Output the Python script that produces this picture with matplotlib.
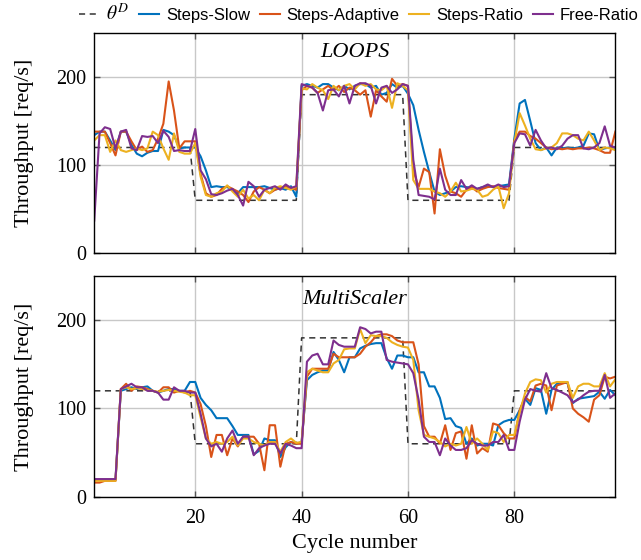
import numpy as np
import matplotlib
matplotlib.use('Agg')
import matplotlib.pyplot as plt

plt.rcParams['font.family'] = ['Liberation Serif', 'DejaVu Serif']
plt.rcParams['mathtext.fontset'] = 'stix'

cycles = np.arange(1, 100)

# target throughput theta^D (same for both workloads)
target = [120] * 19 + [60] * 20 + [180] * 20 + [60] * 20 + [120] * 20

# ---- LOOPS ----
loops_slow = [134, 138, 138, 128, 117, 138, 138, 123, 113, 110,
              114, 116, 116, 140, 138, 134, 119, 120, 120, 120,
              110, 94, 75, 76, 75, 75, 72, 68, 75, 75,
              75, 75, 76, 74, 72, 74, 72, 76, 64, 190,
              192, 190, 188, 192, 192, 188, 185, 190, 186, 190,
              192, 192, 188, 190, 180, 182, 192, 188, 190, 181,
              168, 140, 115, 92, 70, 66, 68, 70, 75, 76,
              75, 74, 73, 75, 76, 75, 76, 77, 78, 130,
              170, 174, 150, 125, 117, 120, 111, 120, 119, 120,
              119, 120, 122, 136, 135, 117, 119, 120, 120]
loops_adaptive = [138, 138, 138, 125, 111, 138, 138, 127, 117, 121,
                  115, 117, 130, 147, 195, 162, 119, 127, 127, 127,
                  90, 68, 64, 66, 73, 76, 73, 70, 66, 58,
                  70, 75, 72, 68, 72, 74, 76, 74, 72, 185,
                  190, 188, 182, 186, 190, 185, 190, 183, 188, 185,
                  180, 185, 155, 185, 178, 172, 198, 190, 192, 190,
                  94, 75, 96, 92, 45, 118, 88, 70, 68, 64,
                  72, 75, 70, 73, 75, 76, 74, 73, 72, 128,
                  138, 138, 133, 130, 125, 120, 118, 119, 118, 119,
                  118, 119, 119, 120, 119, 117, 114, 114, 138]
loops_ratio = [128, 134, 134, 115, 128, 117, 115, 117, 119, 117,
               119, 138, 134, 119, 106, 136, 115, 113, 113, 125,
               87, 66, 64, 68, 70, 77, 70, 64, 72, 62,
               66, 60, 72, 68, 74, 76, 74, 72, 76, 187,
               186, 192, 188, 185, 175, 190, 185, 190, 192, 186,
               193, 190, 192, 186, 185, 190, 165, 193, 190, 185,
               83, 73, 73, 73, 70, 68, 64, 70, 80, 70,
               71, 73, 72, 64, 66, 72, 76, 51, 68, 125,
               159, 145, 130, 118, 117, 119, 120, 125, 136, 136,
               134, 130, 128, 138, 128, 117, 120, 119, 117]
loops_free = [37, 136, 143, 141, 119, 138, 140, 119, 117, 133,
              132, 133, 125, 139, 132, 116, 117, 116, 116, 141,
              94, 84, 67, 66, 68, 71, 73, 66, 54, 81,
              76, 64, 72, 74, 76, 72, 78, 74, 76, 192,
              190, 188, 182, 162, 185, 186, 178, 190, 170, 190,
              193, 193, 190, 170, 188, 190, 182, 186, 192, 190,
              106, 66, 65, 64, 61, 96, 72, 66, 66, 83,
              73, 77, 73, 75, 78, 75, 78, 75, 76, 125,
              136, 135, 122, 140, 128, 119, 120, 118, 122, 130,
              134, 134, 119, 118, 120, 125, 144, 122, 120]

# ---- MultiScaler ----
ms_slow = [19, 19, 19, 19, 19, 120, 122, 124, 122, 124,
           125, 120, 118, 120, 122, 122, 120, 120, 130, 130,
           112, 104, 98, 89, 89, 89, 80, 70, 70, 70,
           48, 52, 66, 64, 64, 45, 56, 62, 60, 62,
           132, 138, 141, 143, 143, 164, 155, 141, 158, 158,
           168, 171, 173, 174, 174, 157, 145, 160, 160, 158,
           158, 141, 141, 125, 125, 112, 88, 89, 80, 78,
           60, 66, 58, 60, 60, 58, 81, 85, 87, 87,
           98, 111, 104, 123, 121, 94, 121, 128, 129, 129,
           106, 111, 112, 113, 114, 119, 111, 121, 115]
ms_adaptive = [16, 16, 18, 18, 18, 122, 128, 120, 125, 124,
               122, 120, 118, 124, 124, 118, 120, 118, 120, 118,
               105, 80, 45, 70, 70, 47, 66, 57, 68, 68,
               68, 60, 30, 81, 81, 34, 60, 62, 60, 60,
               136, 145, 145, 145, 145, 162, 158, 158, 158, 158,
               162, 170, 175, 182, 184, 184, 182, 177, 175, 175,
               175, 150, 80, 68, 68, 60, 81, 53, 72, 74,
               43, 81, 49, 55, 51, 83, 81, 72, 66, 66,
               98, 113, 108, 126, 128, 126, 98, 126, 128, 130,
               100, 94, 90, 85, 110, 115, 136, 134, 136]
ms_ratio = [18, 18, 18, 18, 18, 122, 124, 122, 123, 122,
            121, 120, 119, 120, 121, 120, 119, 118, 115, 115,
            90, 66, 60, 62, 60, 62, 68, 58, 66, 66,
            62, 60, 58, 62, 62, 51, 62, 66, 61, 62,
            141, 145, 143, 141, 141, 151, 155, 167, 168, 168,
            190, 174, 183, 182, 182, 180, 175, 172, 170, 169,
            155, 98, 70, 68, 66, 62, 57, 60, 58, 60,
            79, 60, 66, 60, 53, 74, 72, 62, 70, 70,
            95, 117, 130, 133, 132, 118, 128, 130, 130, 130,
            112, 125, 128, 128, 125, 125, 140, 125, 133]
ms_free = [20, 20, 20, 20, 20, 122, 125, 128, 124, 124,
           120, 120, 118, 110, 110, 124, 120, 120, 118, 118,
           94, 66, 57, 60, 51, 66, 75, 60, 68, 68,
           47, 55, 58, 60, 60, 49, 60, 58, 55, 55,
           153, 160, 162, 150, 150, 177, 172, 170, 170, 170,
           192, 190, 185, 187, 187, 155, 153, 152, 151, 150,
           140, 110, 68, 62, 62, 47, 66, 58, 53, 53,
           55, 64, 60, 58, 58, 62, 62, 70, 53, 53,
           85, 110, 122, 120, 119, 140, 123, 121, 118, 115,
           107, 110, 115, 119, 120, 120, 138, 112, 117]

colors = ['#0072BD', '#D95319', '#EDB120', '#7E2F8E']
names = ['Steps-Slow', 'Steps-Adaptive', 'Steps-Ratio', 'Free-Ratio']

fig = plt.figure(figsize=(6.41, 5.60), dpi=100)
ax1 = fig.add_axes([0.147, 0.548, 0.813, 0.393])
ax2 = fig.add_axes([0.147, 0.113, 0.813, 0.394])

panels = [(ax1, 'LOOPS', 0.91, [loops_slow, loops_adaptive, loops_ratio, loops_free]),
          (ax2, 'MultiScaler', 0.895, [ms_slow, ms_adaptive, ms_ratio, ms_free])]

for ax, title, ty, series in panels:
    ax.plot(cycles, target, color='#333333', ls=(0, (4, 3)), lw=1.1, label=r'$\theta^{D}$')
    for vals, c, n in zip(series, colors, names):
        ax.plot(cycles, vals, color=c, lw=1.5, label=n)
    ax.set_xlim(1, 99)
    ax.set_ylim(0, 250)
    ax.set_xticks([20, 40, 60, 80])
    ax.set_yticks([0, 100, 200])
    ax.grid(True, color='#c8c8c8', lw=1)
    ax.set_axisbelow(True)
    ax.tick_params(direction='in', length=4, width=1, color='#555555',
                   top=True, right=True, labelsize=14.5)
    ax.tick_params(axis='x', pad=9)
    ax.tick_params(axis='y', pad=6)
    for s in ax.spines.values():
        s.set_linewidth(1)
    ax.set_ylabel('Throughput [req/s]', fontsize=16)
    ax.text(0.5, ty, title, transform=ax.transAxes, ha='center', va='center',
            fontsize=16, style='italic')

ax1.tick_params(labelbottom=False)
ax1.yaxis.set_label_coords(-0.115, 0.5)
ax2.yaxis.set_label_coords(-0.115, 0.5)
ax2.set_xlabel('Cycle number', fontsize=16)

handles, labels = ax1.get_legend_handles_labels()
leg = fig.legend(handles, labels, loc='center', bbox_to_anchor=(0.56, 0.976), ncol=5,
                 frameon=False, handlelength=1.2, handletextpad=0.4, columnspacing=0.6,
                 prop={'family': 'Liberation Sans', 'size': 12})
leg.get_texts()[0].set_fontsize(14)

fig.savefig('out.png', dpi=100)
